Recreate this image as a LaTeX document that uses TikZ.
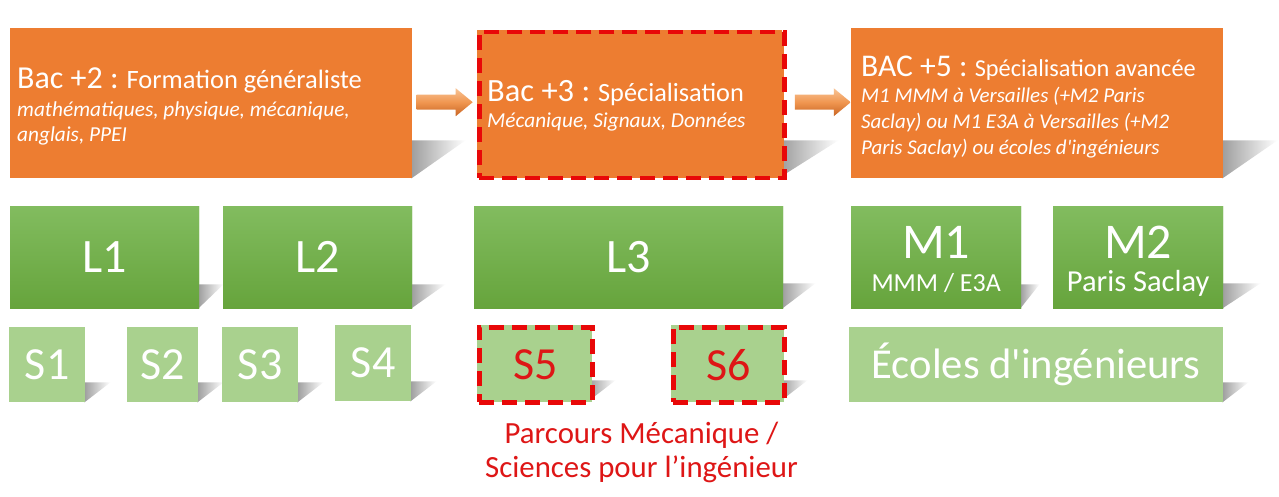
\documentclass[tikz,border=0pt]{standalone}
\usepackage{fontspec}
\setmainfont{Carlito}[Ligatures=TeXOff]
\usetikzlibrary{calc}
\definecolor{orng}{RGB}{237,125,49}
\definecolor{grntop}{RGB}{130,188,95}
\definecolor{grnbot}{RGB}{102,164,60}
\definecolor{lgrn}{RGB}{169,209,142}
\definecolor{dred}{RGB}{232,8,8}
\definecolor{txtred}{RGB}{222,22,22}
\definecolor{arrtop}{RGB}{248,196,150}
\definecolor{arrmid}{RGB}{240,150,80}
\definecolor{arrbot}{RGB}{200,100,35}
\newcommand\pshad[3]{%
  \shade[left color=black!38, right color=white]
    ($(#1.south east)+(-1,0)$) -- ($(#1.south east)+(-1,-#3)$) -- ($(#1.south east)+(#2,-#3)$) -- cycle;}
\newcommand\blockarrow[1]{%
  \shade[top color=arrtop, bottom color=arrbot, middle color=arrmid]
    ($(#1)+(-28,-7.5)$) -- ($(#1)+(11,-7.5)$) -- ($(#1)+(11,-14)$) -- ($(#1)+(28,0)$)
    -- ($(#1)+(11,14)$) -- ($(#1)+(11,7.5)$) -- ($(#1)+(-28,7.5)$) -- cycle;}
\tikzset{
  topbox/.style={fill=orng, draw=none, inner sep=0, anchor=north west},
  gbox/.style={top color=grntop, bottom color=grnbot, draw=none, inner sep=0, anchor=north west,
     text=white, font=\fontsize{48}{50}\selectfont},
  sbox/.style={fill=lgrn, draw=none, inner sep=0, anchor=north west,
     text=white, font=\fontsize{46}{48}\selectfont},
  redborder/.style={draw=dred, line width=4.5, dash pattern=on 15 off 8},
  wtxt/.style={text=white, inner sep=0, anchor=base west},
  itxt/.style={wtxt, font=\itshape\fontsize{21.3}{24}\selectfont},
  ctxt/.style={text=white, inner sep=0, anchor=base},
}
\begin{document}
\begin{tikzpicture}[x=1pt,y=-1pt]
\fill[white] (0,0) rectangle (1279,497);
\useasboundingbox (0,0) rectangle (1279,497);

% ---------- top row ----------
\coordinate (p1) at (10,28);
\coordinate (p2) at (477,30);
\coordinate (p3) at (851,28);
\path (p1) node[topbox, minimum width=402, minimum height=150] (b1) {};
\path (p2) node[topbox, minimum width=305, minimum height=146] (b2) {};
\path (p3) node[topbox, minimum width=372, minimum height=150] (b3) {};
\pshad{b1}{53}{38}
\pshad{b2}{56}{36}
\pshad{b3}{54}{38}
\path (p1) node[topbox, minimum width=402, minimum height=150] (b1f) {};
\path (p2) node[topbox, redborder, minimum width=305, minimum height=146] (b2f) {};
\path (p3) node[topbox, minimum width=372, minimum height=150] (b3f) {};

\coordinate (a1) at ($(b1f.east)!0.5!(b2f.west)+(0,-2)$);
\coordinate (a2) at ($(b2f.east)!0.5!(b3f.west)+(4,-2)$);
\blockarrow{a1}
\blockarrow{a2}

\node[wtxt] (t1) at (17,89) {\fontsize{32}{36}\selectfont Bac +2 :\fontsize{26.5}{30}\selectfont{} Formation généraliste};
\node[itxt] (t1b) at (17,117) {mathématiques, physique, mécanique,};
\node[itxt] (t1c) at (17,142) {anglais, PPEI};

\node[wtxt] (t2) at (487,102) {\fontsize{32.5}{36}\selectfont Bac +3 :\fontsize{26.3}{30}\selectfont{} Spécialisation};
\node[itxt] (t2b) at (487,128) {Mécanique, Signaux, Données};

\node[wtxt] (t3) at (861,77) {\fontsize{31.6}{36}\selectfont BAC +5 :\fontsize{24.3}{28}\selectfont{} Spécialisation avancée};
\node[itxt, font=\itshape\fontsize{21}{24}\selectfont] (t3b) at (861,103) {M1 MMM à Versailles (+M2 Paris};
\node[itxt, font=\itshape\fontsize{21}{24}\selectfont] (t3c) at (861,129) {Saclay) ou M1 E3A à Versailles (+M2};
\node[itxt, font=\itshape\fontsize{21}{24}\selectfont] (t3d) at (861,155) {Paris Saclay) ou écoles d'ingénieurs};

% ---------- green row ----------
\coordinate (q1) at (10,206);
\coordinate (q2) at (223,206);
\coordinate (q3) at (474,206);
\coordinate (q4) at (851,206);
\coordinate (q5) at (1053,206);
\path (q1) node[gbox, minimum width=189, minimum height=102] (l1s) {};
\path (q2) node[gbox, minimum width=189, minimum height=102] (l2s) {};
\path (q3) node[gbox, minimum width=309, minimum height=102] (l3s) {};
\path (q4) node[gbox, minimum width=170, minimum height=102] (m1s) {};
\path (q5) node[gbox, minimum width=170, minimum height=102] (m2s) {};
\pshad{l1s}{24}{24}
\pshad{l2s}{33}{24}
\pshad{l3s}{32}{25}
\pshad{m1s}{18}{24}
\pshad{m2s}{37}{25}
\path (q1) node[gbox, minimum width=189, minimum height=102] (l1) {L1};
\path (q2) node[gbox, minimum width=189, minimum height=102] (l2) {L2};
\path (q3) node[gbox, minimum width=309, minimum height=102] (l3) {L3};
\path (q4) node[gbox, minimum width=170, minimum height=102] (m1) {};
\path (q5) node[gbox, minimum width=170, minimum height=102] (m2) {};
\node[ctxt, font=\fontsize{50}{52}\selectfont] (m1a) at ($(m1.north)+(0,52)$) {M1};
\node[ctxt, font=\fontsize{26}{28}\selectfont] (m1b) at ($(m1.north)+(0,85)$) {MMM / E3A};
\node[ctxt, font=\fontsize{50}{52}\selectfont] (m2a) at ($(m2.north)+(0,52)$) {M2};
\node[ctxt, font=\fontsize{30.5}{32}\selectfont] (m2b) at ($(m2.north)+(0,85)$) {Paris Saclay};

% ---------- semester row ----------
\coordinate (r1) at (9,327);
\coordinate (r2) at (127,327);
\coordinate (r3) at (222,327);
\coordinate (r4) at (335,325);
\coordinate (r5) at (477,325);
\coordinate (r6) at (671,325);
\coordinate (r7) at (849,327);
\path (r1) node[sbox, minimum width=76, minimum height=75] (s1s) {};
\path (r2) node[sbox, minimum width=71, minimum height=75] (s2s) {};
\path (r3) node[sbox, minimum width=76, minimum height=75] (s3s) {};
\path (r4) node[sbox, minimum width=76, minimum height=76] (s4s) {};
\path (r5) node[sbox, minimum width=113, minimum height=75] (s5s) {};
\path (r6) node[sbox, minimum width=111, minimum height=75] (s6s) {};
\path (r7) node[sbox, minimum width=374, minimum height=75] (ecs) {};
\pshad{s1s}{25}{20}
\pshad{s2s}{25}{20}
\pshad{s3s}{25}{20}
\pshad{s4s}{25}{20}
\pshad{s5s}{25}{20}
\pshad{s6s}{25}{20}
\pshad{ecs}{25}{20}
\path (r1) node[sbox, minimum width=76, minimum height=75] (s1) {S1};
\path (r2) node[sbox, minimum width=71, minimum height=75] (s2) {S2};
\path (r3) node[sbox, minimum width=76, minimum height=75] (s3) {S3};
\path (r4) node[sbox, minimum width=76, minimum height=76] (s4) {S4};
\path (r5) node[sbox, redborder, text=txtred, minimum width=113, minimum height=75] (s5) {S5};
\path (r6) node[sbox, redborder, text=txtred, minimum width=111, minimum height=75] (s6) {S6};
\path (r7) node[sbox, font=\fontsize{42.6}{46}\selectfont, minimum width=374, minimum height=75] (ec) {Écoles d'ingénieurs};

% ---------- red caption ----------
\node[ctxt, text=txtred, font=\fontsize{30.8}{32}\selectfont] (cap1) at (641.5,443) {Parcours Mécanique /};
\node[ctxt, text=txtred, font=\fontsize{30.8}{32}\selectfont] (cap2) at (641.5,477) {Sciences pour l’ingénieur};
\end{tikzpicture}
\end{document}
